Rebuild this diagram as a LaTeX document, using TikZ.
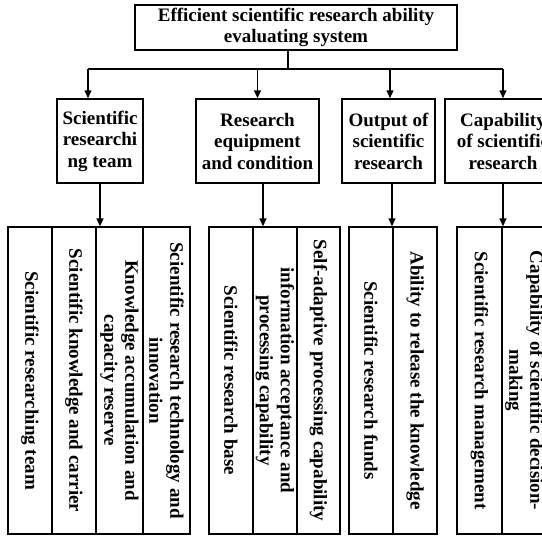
\documentclass[tikz,border=0pt]{standalone}
\usepackage{fontspec}
\setmainfont{Liberation Serif}
\usetikzlibrary{arrows.meta}
\begin{document}
\begin{tikzpicture}[x=1pt,y=-1pt,
  txt/.style={font=\fontsize{19}{21.5}\selectfont\bfseries, align=center, inner sep=0pt},
  box/.style={txt, draw, line width=1.5pt},
  leaf/.style={txt, draw, line width=1.4pt, rotate=-90, minimum width=307pt, font=\fontsize{19}{21}\selectfont\bfseries},
  conn/.style={line width=1.5pt},
  arr/.style={conn, -{Triangle[length=8pt,width=7pt]}}]
\useasboundingbox (0,0) rectangle (542,536);
\clip (0,0) rectangle (542,536);
% top
\node[box, minimum width=322pt, minimum height=45pt] (top) at (296,27.5)
  {Efficient scientific research ability\\evaluating system};
% level 2
\node[box, minimum width=86pt, minimum height=84pt] (b1) at (100,141) {Scientific\\researchi\\ng team};
\node[box, minimum width=123pt, minimum height=84pt] (b2) at (257.5,141) {Research\\equipment\\and condition};
\node[box, minimum width=93pt, minimum height=84pt] (b3) at (388.5,141) {Output of\\scientific\\research};
\node[box, minimum width=116pt, minimum height=84pt] (b4) at (503,141) {Capability\\of scientific\\research};
% junction
\coordinate (j) at (288,69);
\coordinate (hl) at (88,69);
\coordinate (hr) at (503,69);
\draw[conn] (j |- top.south) -- (j);
\draw[conn] (hl) -- (hr);
\draw[arr] (hl) -- (hl |- b1.north);
\draw[arr] (b2.north |- j) -- (b2.north);
\draw[arr] ([xshift=1.5pt]b3.north |- j) -- ([xshift=1.5pt]b3.north);
\draw[arr] (hr) -- (b4.north);
% leaves group 1
\node[leaf, minimum height=44pt] (c11) at (30,380.5) {Scientific researching team};
\node[leaf, minimum height=44pt] (c12) at (74,380.5) {Scientific knowledge and carrier};
\node[leaf, minimum height=47pt] (c13) at (119.5,380.5) {Knowledge accumulation and\\capacity reserve};
\node[leaf, minimum height=47pt] (c14) at (166.5,380.5) {Scientific research technology and\\innovation};
% group 2
\node[leaf, minimum height=44pt] (c21) at (231,380.5) {Scientific research base};
\node[leaf, minimum height=44pt] (c22) at (275,380.5) {information acceptance and\\processing capability};
\node[leaf, minimum height=43pt] (c23) at (318.5,380.5) {Self-adaptive processing capability};
% group 3
\node[leaf, minimum height=44pt] (c31) at (371,380.5) {Scientific research funds};
\node[leaf, minimum height=44pt] (c32) at (415,380.5) {Ability to release the knowledge};
% group 4
\node[leaf, minimum height=45pt] (c41) at (479.5,380.5) {Scientific research management};
\node[leaf, minimum height=45pt] (c42) at (524.5,380.5) {Capability of scientific decision-\\making};
% down arrows
\draw[arr] (b1.south) -- (b1.south |- c11.west);
\draw[arr] ([xshift=5.5pt]b2.south) -- ([xshift=5.5pt]b2.south |- c21.west);
\draw[arr] ([xshift=3.5pt]b3.south) -- ([xshift=3.5pt]b3.south |- c31.west);
\draw[arr] (b4.south) -- (b4.south |- c41.west);
\end{tikzpicture}
\end{document}
